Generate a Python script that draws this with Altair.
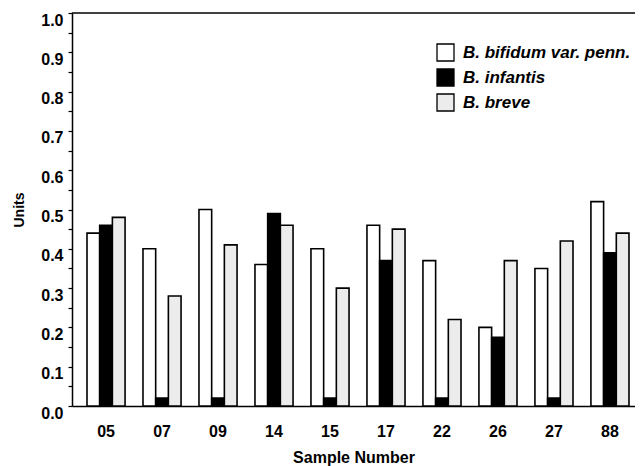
import altair as alt
import pandas as pd

samples = ["05", "07", "09", "14", "15", "17", "22", "26", "27", "88"]
series = ["B. bifidum var. penn.", "B. infantis", "B. breve"]
bifidum = [0.44, 0.40, 0.50, 0.36, 0.40, 0.46, 0.37, 0.20, 0.35, 0.52]
infantis = [0.46, 0.02, 0.02, 0.49, 0.02, 0.37, 0.02, 0.175, 0.02, 0.39]
breve = [0.48, 0.28, 0.41, 0.46, 0.30, 0.45, 0.22, 0.37, 0.42, 0.44]
fills = ["#ffffff", "#000000", "#ececec"]
y_ticks = [0.0, 0.05, 0.1, 0.15, 0.2, 0.25, 0.3, 0.35, 0.4, 0.45, 0.5,
           0.55, 0.6, 0.65, 0.7, 0.75, 0.8, 0.85, 0.9, 0.95, 1.0]

rows = []
for name, vals in zip(series, [bifidum, infantis, breve]):
    for s, v in zip(samples, vals):
        rows.append({"sample": s, "series": name, "value": v})
df = pd.DataFrame(rows)

W, H = 563, 393
FONT = "Liberation Sans"

bars = alt.Chart(df).mark_bar(stroke="black", strokeWidth=1.6).encode(
    x=alt.X(
        "sample:N", sort=samples,
        scale=alt.Scale(paddingInner=0.32, paddingOuter=0.1875, align=0.714),
        axis=alt.Axis(
            title="Sample Number", labelAngle=0, ticks=False,
            domainColor="black", domainWidth=1.5,
            labelFont=FONT, labelFontSize=16, labelFontWeight="bold", labelColor="black",
            labelPadding=17,
            titleFont=FONT, titleFontSize=16, titleFontWeight="bold", titleColor="black",
            titlePadding=10,
        ),
    ),
    xOffset=alt.XOffset("series:N", sort=series, scale=alt.Scale(paddingInner=0, paddingOuter=0)),
    y=alt.Y(
        "value:Q",
        scale=alt.Scale(domain=[0, 1], nice=False),
        axis=alt.Axis(
            title="Units", values=y_ticks, grid=False,
            labelExpr="(round(datum.value*20) % 2 == 0) ? format(datum.value, '.1f') : ''",
            domainColor="black", domainWidth=1.5, tickColor="black", tickSize=4, tickWidth=1.2,
            labelFont=FONT, labelFontSize=16, labelFontWeight="bold", labelColor="black",
            labelPadding=5, labelOffset=7,
            titleFont=FONT, titleFontSize=14, titleFontWeight="bold", titleColor="black",
            titlePadding=14,
        ),
    ),
    fill=alt.Fill(
        "series:N", sort=series,
        scale=alt.Scale(domain=series, range=fills),
        legend=alt.Legend(
            title=None, orient="none", legendX=364, legendY=30,
            symbolType="square", symbolSize=289, symbolStrokeColor="black", symbolStrokeWidth=1.3,
            labelFont=FONT, labelFontSize=17, labelFontWeight="bold", labelFontStyle="italic",
            labelColor="black", rowPadding=2, labelOffset=8, labelLimit=400,
        ),
    ),
)

top = alt.Chart(pd.DataFrame({"a": [0]})).mark_rule(color="black", strokeWidth=1.5).encode(
    y=alt.value(0), x=alt.value(0), x2=alt.value(W)
)

chart = alt.layer(bars, top).properties(
    width=W, height=H,
    autosize=alt.AutoSizeParams(type="none"),
    padding={"left": 64, "top": 5, "right": 0, "bottom": 60},
    background="white",
).configure_view(stroke=None)

chart.save("out.html", embed_options={"renderer": "svg", "actions": False})
